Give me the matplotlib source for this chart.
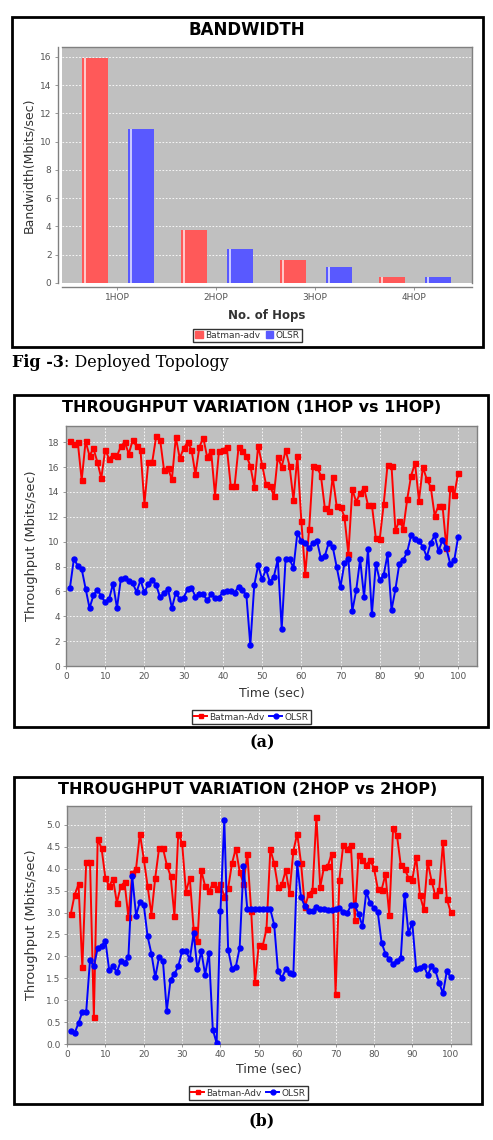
import matplotlib
matplotlib.use("Agg")
import matplotlib.pyplot as plt
from matplotlib.patches import Rectangle, Patch
from matplotlib.lines import Line2D

# ---- data -----------------------------------------------------------
hops = ["1HOP", "2HOP", "3HOP", "4HOP"]
bw_batman = [15.9, 3.76, 1.6, 0.45]
bw_olsr = [10.9, 2.39, 1.16, 0.4]

seconds = list(range(1, 101))

# throughput, 1 hop vs 1 hop (Mbits/sec)
thr1_batman = [18.07, 17.85, 18.0, 14.96, 18.07, 16.9, 17.5, 16.4, 15.1, 17.4,
               16.65, 17.0, 16.9, 17.67, 18.0, 17.05, 18.15, 17.67, 17.35, 13.03,
               16.43, 16.43, 18.47, 18.2, 15.74, 15.9, 15.0, 18.4, 16.7, 17.5,
               18.0, 17.4, 15.4, 17.6, 18.36, 16.8, 17.3, 13.7, 17.3, 17.4,
               17.6, 14.5, 14.5, 17.6, 17.3, 16.9, 16.1, 14.4, 17.7, 16.2,
               14.6, 14.5, 13.7, 16.8, 16.0, 17.35, 16.1, 13.35, 16.85, 11.7,
               7.4, 11.0, 16.1, 16.0, 15.3, 12.7, 12.5, 15.2, 12.9, 12.8,
               12.0, 9.0, 14.2, 13.2, 13.9, 14.3, 12.95, 12.95, 10.3, 10.2,
               13.0, 16.2, 16.1, 10.9, 11.7, 11.05, 13.4, 15.3, 16.3, 13.3,
               16.0, 15.0, 14.4, 12.1, 12.9, 12.9, 9.5, 14.3, 13.75, 15.55]
thr1_olsr = [6.27, 8.6, 8.07, 7.8, 6.22, 4.66, 5.68, 6.14, 5.6, 5.12,
             5.4, 6.62, 4.66, 7.02, 7.08, 6.8, 6.67, 5.95, 6.9, 5.92,
             6.6, 6.94, 6.5, 5.52, 5.87, 6.2, 4.66, 5.9, 5.36, 5.5,
             6.17, 6.3, 5.58, 5.76, 5.76, 5.28, 5.76, 5.5, 5.5, 5.95,
             6.03, 6.03, 5.9, 6.38, 6.1, 5.68, 1.66, 6.5, 8.1, 6.97,
             7.77, 6.76, 7.18, 8.58, 3.0, 8.63, 8.58, 7.9, 10.72, 10.05,
             9.92, 9.46, 9.92, 10.05, 8.66, 8.85, 9.92, 9.6, 8.0, 6.38,
             8.26, 8.58, 4.42, 6.09, 8.58, 5.55, 9.38, 4.16, 8.23, 6.89,
             7.32, 8.98, 4.5, 6.17, 8.23, 8.53, 9.17, 10.5, 10.19, 10.05,
             9.6, 8.77, 9.92, 10.5, 9.25, 10.13, 9.46, 8.18, 8.5, 10.4]

# throughput, 2 hop vs 2 hop (Mbits/sec)
thr2_batman = [2.97, 3.41, 3.64, 1.75, 4.15, 4.15, 0.62, 4.67, 4.47, 3.79,
               3.6, 3.77, 3.22, 3.6, 3.69, 2.89, 3.89, 4.0, 4.8, 4.23,
               3.61, 2.95, 3.79, 4.47, 4.47, 4.09, 3.83, 2.93, 4.8, 4.59,
               3.47, 3.79, 2.63, 2.34, 3.96, 3.6, 3.49, 3.65, 3.54, 3.65,
               3.36, 3.55, 4.12, 4.46, 3.93, 3.66, 4.34, 3.04, 1.41, 2.27,
               2.23, 2.63, 4.44, 4.12, 3.58, 3.64, 3.96, 3.45, 4.4, 4.8,
               4.13, 3.12, 3.43, 3.51, 5.18, 3.58, 4.04, 4.07, 4.34, 1.14,
               3.75, 4.55, 4.45, 4.54, 2.84, 4.31, 4.19, 4.09, 4.19, 4.02,
               3.54, 3.52, 3.87, 2.95, 4.92, 4.76, 4.08, 4.0, 3.79, 3.75,
               4.27, 3.39, 3.07, 4.16, 3.73, 3.39, 3.51, 4.6, 3.31, 3.01]
thr2_olsr = [0.29, 0.25, 0.48, 0.73, 0.73, 1.92, 1.77, 2.19, 2.23, 2.36,
             1.68, 1.77, 1.64, 1.89, 1.85, 1.98, 3.83, 2.93, 3.24, 3.18,
             2.46, 2.06, 1.52, 1.99, 1.9, 0.76, 1.47, 1.6, 1.77, 2.12,
             2.12, 1.93, 2.53, 1.7, 2.12, 1.58, 2.08, 0.33, 0.02, 3.04,
             5.11, 2.15, 1.72, 1.76, 2.19, 4.07, 3.07, 3.07, 3.07, 3.07,
             3.07, 3.07, 3.07, 2.72, 1.66, 1.51, 1.7, 1.62, 1.6, 4.13,
             3.35, 3.14, 3.04, 3.04, 3.12, 3.07, 3.07, 3.05, 3.06, 3.07,
             3.1, 3.01, 2.98, 3.16, 3.16, 2.97, 2.69, 3.47, 3.22, 3.1,
             3.01, 2.31, 2.06, 1.93, 1.83, 1.9, 1.96, 3.41, 2.53, 2.76,
             1.72, 1.74, 1.79, 1.57, 1.77, 1.68, 1.39, 1.16, 1.66, 1.52]

BG = "#c0c0c0"
TICK = "#555555"


def frame(ax):
    ax.set_facecolor(BG)
    for s in ax.spines.values():
        s.set_color("#808080")
        s.set_linewidth(1.0)
    ax.tick_params(length=2.5, width=0.6, color="#888888", labelsize=6.5,
                   labelcolor=TICK, pad=2)
    ax.set_axisbelow(True)


def box(fig, x0, y0, x1, y1):
    # panel border given in pixels (top-left origin)
    W, H = 493.0, 1140.0
    fig.patches.append(Rectangle((x0 / W, 1 - y1 / H), (x1 - x0) / W, (y1 - y0) / H,
                                 transform=fig.transFigure, fill=False,
                                 lw=2.0, ec="black"))


def fy(y):
    return 1 - y / 1140.0


def fx(x):
    return x / 493.0


fig = plt.figure(figsize=(4.93, 11.40), dpi=100)

# ---- bandwidth bar chart -------------------------------------------
box(fig, 12, 17, 483, 347)
ax = fig.add_axes([fx(62), fy(283), fx(472) - fx(62), fy(47) - fy(283)])
frame(ax)
ax.spines["bottom"].set_position(("outward", 3))
ax.spines["left"].set_position(("outward", 3))
pos = list(range(len(hops)))
w = 0.26
xb = [p - 0.22 for p in pos]
xo = [p + 0.24 for p in pos]
ax.bar(xb, bw_batman, width=w, color="#ff5959", zorder=2)
ax.bar(xo, bw_olsr, width=w, color="#5959ff", zorder=2)
# shiny stripe near the left edge of every bar
ax.bar([v - w / 2 + 0.03 for v in xb], bw_batman, width=0.022, color="#ffc8c8", zorder=3)
ax.bar([v - w / 2 + 0.03 for v in xo], bw_olsr, width=0.022, color="#c8c8ff", zorder=3)
ax.set_xlim(-0.556, 3.586)
ax.set_ylim(0, 16.7)
ax.set_yticks(range(0, 17, 2))
ax.set_xticks(pos)
ax.set_xticklabels(hops)
ax.yaxis.grid(True, color="white", ls=(0, (2, 2)), lw=0.6)
fig.text(fx(247), fy(30), "BANDWIDTH", ha="center", va="center",
         fontsize=12, fontweight="bold")
fig.text(fx(29), fy(165), "Bandwidth(Mbits/sec)", rotation=90, ha="center",
         va="center", fontsize=9, color="#333333")
fig.text(fx(267), fy(315), "No. of Hops", ha="center", va="center",
         fontsize=8.5, fontweight="bold", color="#333333")
fig.legend(handles=[Patch(color="#ff5959", label="Batman-adv"),
                    Patch(color="#5959ff", label="OLSR")],
           loc="center", bbox_to_anchor=(fx(247.5), fy(335.5)), ncol=2,
           fontsize=6.5, frameon=True, fancybox=False, edgecolor="black",
           handlelength=0.8, handleheight=0.8, handletextpad=0.3,
           columnspacing=0.6, borderpad=0.25, labelcolor="#333333")

t1 = fig.text(fx(12), fy(367), "Fig -3", ha="left", va="baseline",
              fontsize=11.5, fontweight="bold", family="DejaVu Serif")
fig.canvas.draw()
bb = t1.get_window_extent(fig.canvas.get_renderer())
fig.text(bb.x1 / fig.bbox.width, fy(367), ": Deployed Topology", ha="left",
         va="baseline", fontsize=11.5, family="DejaVu Serif")


# ---- throughput line charts ----------------------------------------
def line_panel(border, area, title, title_c, red, blue, ylim, yticks, yfmt,
               xlim, ylab_c, xlab_y, leg_c, cap, cap_y):
    box(fig, *border)
    x0, y0, x1, y1 = area
    ax = fig.add_axes([fx(x0), fy(y1), fx(x1) - fx(x0), fy(y0) - fy(y1)])
    frame(ax)
    ax.plot(seconds, red, color="#ff0000", lw=1.4, marker="s", ms=3.6, zorder=3)
    ax.plot(seconds, blue, color="#0000ff", lw=1.4, marker="o", ms=3.6, zorder=3)
    ax.set_xlim(*xlim)
    ax.set_ylim(*ylim)
    ax.set_xticks(range(0, 101, 10))
    ax.set_yticks(yticks)
    ax.set_yticklabels([yfmt.format(v) for v in yticks])
    ax.grid(True, color="white", ls=(0, (2, 2)), lw=0.6)
    fig.text(fx(title_c[0]), fy(title_c[1]), title, ha="center", va="center",
             fontsize=11.5, fontweight="bold")
    fig.text(fx(ylab_c[0]), fy(ylab_c[1]), "Throughput (Mbits/sec)", rotation=90,
             ha="center", va="center", fontsize=9.3, color="#333333")
    fig.text(fx((x0 + x1) / 2), fy(xlab_y), "Time (sec)", ha="center",
             va="center", fontsize=9, color="#333333")
    fig.legend(handles=[Line2D([], [], color="#ff0000", marker="s", ms=3.5, lw=1.4,
                               label="Batman-Adv"),
                        Line2D([], [], color="#0000ff", marker="o", ms=3.5, lw=1.4,
                               label="OLSR")],
               loc="center", bbox_to_anchor=(fx(leg_c[0]), fy(leg_c[1])), ncol=2,
               fontsize=6.5, frameon=True, fancybox=False, edgecolor="black",
               handlelength=1.4, handletextpad=0.3, columnspacing=0.5,
               borderpad=0.25, labelcolor="#333333")
    fig.text(fx(262), fy(cap_y), cap, ha="center", va="center", fontsize=11.5,
             fontweight="bold", family="DejaVu Serif")


line_panel((14, 395, 488, 727), (66, 426, 477, 666),
           "THROUGHPUT VARIATION (1HOP vs 1HOP)", (252, 408),
           thr1_batman, thr1_olsr, (0, 19.3), list(range(0, 19, 2)), "{:d}",
           (0, 104.8), (32, 546), 693, (251.5, 717), "(a)", 743)

line_panel((14, 777, 482, 1104), (67, 806, 471, 1044),
           "THROUGHPUT VARIATION (2HOP vs 2HOP)", (248, 790),
           thr2_batman, thr2_olsr, (0, 5.43), [i * 0.5 for i in range(11)], "{:.1f}",
           (0, 105.3), (32, 925), 1070, (248.5, 1093), "(b)", 1121)

fig.savefig("out.png", dpi=100, facecolor="white")
